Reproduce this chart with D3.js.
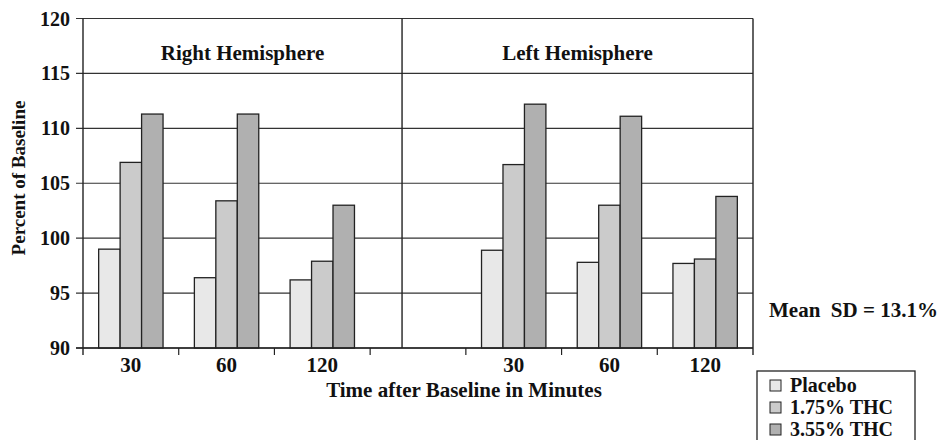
<!DOCTYPE html>
<html>
<head>
<meta charset="utf-8">
<script src="https://cdn.jsdelivr.net/npm/d3@7"></script>
<style>
  body { margin: 0; background: #fff; }
  text { font-family: "Liberation Serif", "Times New Roman", serif; font-weight: bold; fill: #111; }
</style>
</head>
<body>
<div class="canvas"></div>
<script>
// data
const timeLabels = ['30', '60', '120'];
const hemispheres = ['Right Hemisphere', 'Left Hemisphere'];
const seriesNames = ['Placebo', '1.75% THC', '3.55% THC'];
const rightValues = [
  [99.0, 96.4, 96.2],    // Placebo
  [106.9, 103.4, 97.9],  // 1.75% THC
  [111.3, 111.3, 103.0]  // 3.55% THC
];
const leftValues = [
  [98.9, 97.8, 97.7],
  [106.7, 103.0, 98.1],
  [112.2, 111.1, 103.8]
];
const yTicks = [90, 95, 100, 105, 110, 115, 120];
const noteText = 'Mean  SD = 13.1%';
const xTitle = 'Time after Baseline in Minutes';
const yTitle = 'Percent of Baseline';

const colors = ['#e8e8e8', '#cbcbcb', '#b0b0b0'];

const margin = { top: 18.5, right: 185, bottom: 92, left: 83 };
const width = 938, height = 440;
const graphWidth = width - margin.left - margin.right;
const graphHeight = height - margin.top - margin.bottom;

const svg = d3.select('.canvas')
  .append('svg')
  .attr('width', width)
  .attr('height', height);

const graph = svg.append('g')
  .attr('transform', `translate(${margin.left}, ${margin.top})`);

// 7 slots: right 30/60/120, empty, left 30/60/120
const slotLabels = [...timeLabels, '', ...timeLabels];
const x = d3.scaleBand()
  .domain(d3.range(slotLabels.length))
  .range([0, graphWidth]);

const xInner = d3.scaleBand()
  .domain(seriesNames)
  .range([0, x.bandwidth()])
  .paddingOuter(0.73);

const y = d3.scaleLinear()
  .domain([90, 120])
  .range([graphHeight, 0]);

// gridlines
graph.append('g')
  .selectAll('line')
  .data(yTicks)
  .join('line')
  .attr('x1', -7)
  .attr('x2', graphWidth)
  .attr('y1', d => y(d))
  .attr('y2', d => y(d))
  .attr('stroke', '#333')
  .attr('stroke-width', 1.2);

// y labels
graph.append('g')
  .selectAll('text')
  .data(yTicks)
  .join('text')
  .attr('x', -13)
  .attr('y', d => y(d))
  .attr('dy', '0.35em')
  .attr('text-anchor', 'end')
  .attr('font-size', 20)
  .text(d => d);

// frame: left axis, right border, hemisphere divider
const dividerX = x(3) + x.step() / 3;
[0, graphWidth, dividerX].forEach(px => {
  graph.append('line')
    .attr('x1', px).attr('x2', px)
    .attr('y1', 0).attr('y2', graphHeight + (px === dividerX ? 0 : 7))
    .attr('stroke', '#222')
    .attr('stroke-width', 1.4);
});

// bottom ticks at slot boundaries
graph.append('g')
  .selectAll('line')
  .data(d3.range(1, slotLabels.length))
  .join('line')
  .attr('x1', d => d * x.step())
  .attr('x2', d => d * x.step())
  .attr('y1', graphHeight)
  .attr('y2', graphHeight + 7)
  .attr('stroke', '#222')
  .attr('stroke-width', 1.2);

// bars
const groups = [];
[rightValues, leftValues].forEach((vals, h) => {
  timeLabels.forEach((t, i) => {
    seriesNames.forEach((s, k) => {
      groups.push({ slot: h * 4 + i, series: s, k: k, value: vals[k][i] });
    });
  });
});

graph.append('g')
  .selectAll('rect')
  .data(groups)
  .join('rect')
  .attr('x', d => x(d.slot) + xInner(d.series))
  .attr('width', xInner.bandwidth())
  .attr('y', d => y(d.value))
  .attr('height', d => graphHeight - y(d.value))
  .attr('fill', d => colors[d.k])
  .attr('stroke', '#222')
  .attr('stroke-width', 1.3);

// x axis line
graph.append('line')
  .attr('x1', -7).attr('x2', graphWidth)
  .attr('y1', graphHeight).attr('y2', graphHeight)
  .attr('stroke', '#222')
  .attr('stroke-width', 1.4);

// x labels
graph.append('g')
  .selectAll('text')
  .data(slotLabels)
  .join('text')
  .attr('x', (d, i) => x(i) + x.bandwidth() / 2)
  .attr('y', graphHeight + 24)
  .attr('text-anchor', 'middle')
  .attr('font-size', 21)
  .text(d => d);

// hemisphere titles
graph.append('text')
  .attr('x', dividerX / 2)
  .attr('y', 41.5)
  .attr('text-anchor', 'middle')
  .attr('font-size', 21)
  .text(hemispheres[0]);

graph.append('text')
  .attr('x', (dividerX + graphWidth) / 2)
  .attr('y', 41.5)
  .attr('text-anchor', 'middle')
  .attr('font-size', 21)
  .text(hemispheres[1]);

// axis titles
svg.append('text')
  .attr('x', 464)
  .attr('y', 397)
  .attr('text-anchor', 'middle')
  .attr('font-size', 21)
  .text(xTitle);

svg.append('text')
  .attr('transform', 'translate(25, 178) rotate(-90)')
  .attr('text-anchor', 'middle')
  .attr('font-size', 19)
  .text(yTitle);

// note
svg.append('text')
  .attr('x', 769)
  .attr('y', 317)
  .attr('font-size', 21)
  .style('white-space', 'pre')
  .text(noteText);

// legend
const legend = svg.append('g').attr('transform', 'translate(757, 371)');
legend.append('rect')
  .attr('width', 158).attr('height', 80)
  .attr('fill', '#fff')
  .attr('stroke', '#222')
  .attr('stroke-width', 1.3);

seriesNames.forEach((s, i) => {
  legend.append('rect')
    .attr('x', 13).attr('y', 9 + i * 22)
    .attr('width', 11).attr('height', 11)
    .attr('fill', colors[i])
    .attr('stroke', '#222')
    .attr('stroke-width', 1);
  legend.append('text')
    .attr('x', 33).attr('y', 20.5 + i * 22)
    .attr('font-size', 20)
    .text(s);
});
</script>
</body>
</html>
